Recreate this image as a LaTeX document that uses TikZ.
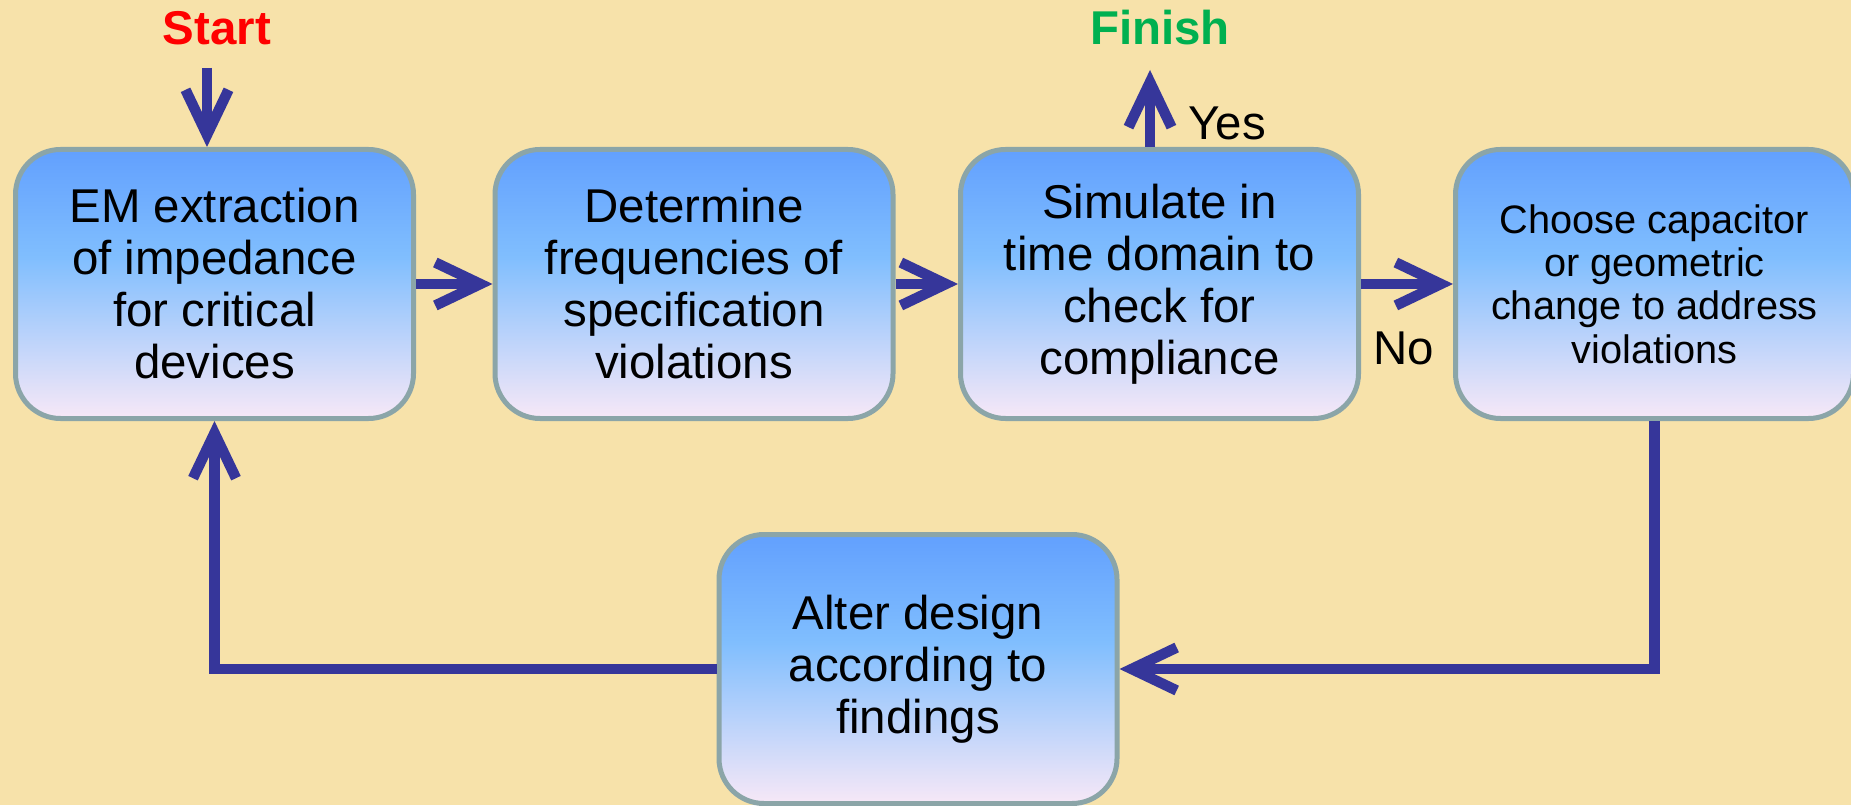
\documentclass[tikz,border=0pt]{standalone}
\usepackage{fontspec}
\setmainfont{Liberation Sans}
\usepackage{xcolor}
\usepackage{tikz}
\usetikzlibrary{arrows.meta,positioning,calc}
\definecolor{bgsand}{HTML}{F7E2AA}
\definecolor{boxedge}{HTML}{8BA5A8}
\definecolor{boxtop}{HTML}{62A0FE}
\definecolor{boxmid}{HTML}{80BEFE}
\definecolor{boxbot}{HTML}{F7E8F7}
\definecolor{flowblue}{HTML}{36369A}
\definecolor{startred}{HTML}{FF0000}
\definecolor{finishgreen}{HTML}{00B050}
\pgfdeclareverticalshading{stepfade}{100bp}{color(0bp)=(boxbot); color(25bp)=(boxbot);
  color(55bp)=(boxmid); color(75bp)=(boxtop); color(100bp)=(boxtop)}

\begin{document}
\begin{tikzpicture}[>={Straight Barb[length=0.45cm,width=0.43cm]},
  stepbox/.style={draw=boxedge, line width=0.05cm, rounded corners=0.45cm,
    shading=stepfade,
    minimum width=3.98cm, minimum height=2.69cm, align=center, inner sep=0pt,
    font=\fontsize{13.5}{14.8}\selectfont},
  flow/.style={draw=flowblue, line width=0.105cm, ->},
  tag/.style={font=\fontsize{13.5}{15}\selectfont}]
  % page background
  \fill[bgsand] (0,0) rectangle (18.51,8.05);
  \useasboundingbox (0,0) rectangle (18.51,8.05);
  % the five steps
  \node[stepbox] (extract) at (2.145,5.21) {EM extraction\\of impedance\\for critical\\devices};
  \node[stepbox] (freq) at (6.94,5.21) {Determine\\frequencies of\\specification\\violations};
  \node[stepbox] (simulate) at (11.595,5.21) {Simulate in\\time domain to\\check for\\compliance};
  \node[stepbox, font=\fontsize{11.3}{12.3}\selectfont] (choose) at (16.545,5.21)
    {Choose capacitor\\or geometric\\change to address\\violations};
  \node[stepbox] (alter) at (9.18,1.36) {Alter design\\according to\\findings};
  % start / finish labels
  \node[tag, startred, font=\fontsize{13.5}{15}\selectfont\bfseries] (start) at (2.17,7.77) {Start};
  \node[tag, finishgreen, font=\fontsize{13.5}{15}\selectfont\bfseries] (finish) at (11.6,7.77) {Finish};
  \coordinate (startin) at (2.07,7.37);
  \coordinate (finishout) at (11.5,7.35);
  % connectors
  \draw[flow] (startin) -- (startin |- extract.north);
  \draw[flow] (finishout |- simulate.north) -- (finishout);
  \node[tag] (yes) at (12.27,6.82) {Yes};
  \draw[flow] (extract) -- (freq);
  \draw[flow] (freq) -- (simulate);
  \draw[flow] (simulate) -- (choose);
  \node[tag] (no) at (14.04,4.57) {No};
  \draw[flow] (choose.south) |- (alter.east);
  \draw[flow] (alter.west) -| (extract.south);
\end{tikzpicture}
\end{document}
